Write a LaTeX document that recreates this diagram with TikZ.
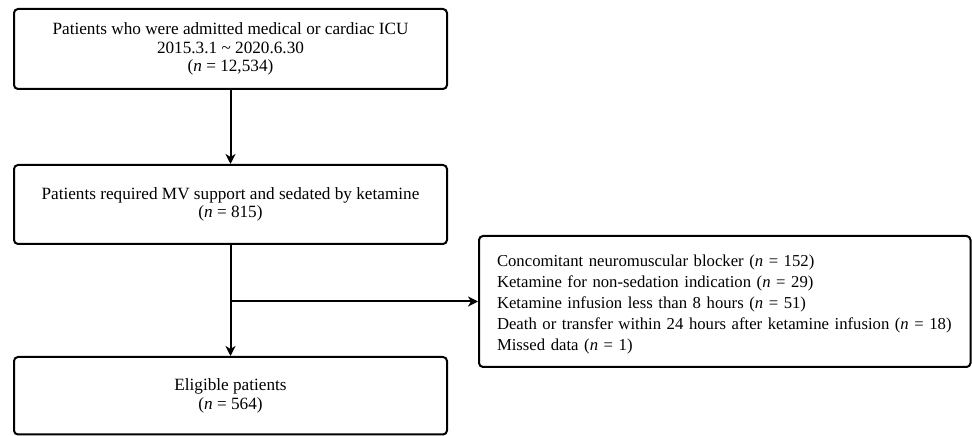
\documentclass[tikz,border=0pt]{standalone}
\usepackage{fontspec}
\setmainfont{Liberation Serif}
\usetikzlibrary{arrows.meta}
\begin{document}
\begin{tikzpicture}[x=1pt,y=1pt,
  box/.style={draw, line width=2pt, rounded corners=4pt, inner sep=0pt},
  ctxt/.style={font=\fontsize{17.2}{18.5}\selectfont, align=center},
  ltxt/.style={font=\fontsize{16.7}{20.8}\selectfont, align=left, text width=455.5pt, inner xsep=18pt},
  arr/.style={line width=2pt, -{Stealth[length=10pt,width=10pt,inset=3pt]}}]
\useasboundingbox (0,0) rectangle (972,436);
\node[box, ctxt, minimum width=433pt, minimum height=80pt] (b1) at (230.5,387)
  {Patients who were admitted medical or cardiac ICU\\2015.3.1 \textasciitilde{} 2020.6.30\\(\textit{n} = 12,534)};
\node[box, ctxt, minimum width=433pt, minimum height=79pt] (b2) at (230.5,231.5)
  {Patients required MV support and sedated by ketamine\\(\textit{n} = 815)};
\node[box, ctxt, minimum width=433pt, minimum height=77.5pt] (b3) at (230.5,40.25)
  {Eligible patients\\(\textit{n} = 564)};
\node[box, ltxt, minimum width=491.5pt, minimum height=131pt] (ex) at (724.75,134.5)
  {\rule{0pt}{17.5pt}Concomitant neuromuscular blocker (\textit{n} = 152)\\
   Ketamine for non-sedation indication (\textit{n} = 29)\\
   Ketamine infusion less than 8 hours (\textit{n} = 51)\\
   Death or transfer within 24 hours after ketamine infusion (\textit{n} = 18)\\
   Missed data (\textit{n} = 1)};
\coordinate (split) at (b2.south |- ex.west);
\draw[arr] (b1.south) -- (b2.north);
\draw[arr] (b2.south) -- (b3.north);
\draw[arr] (split) -- (ex.west);
\end{tikzpicture}
\end{document}
